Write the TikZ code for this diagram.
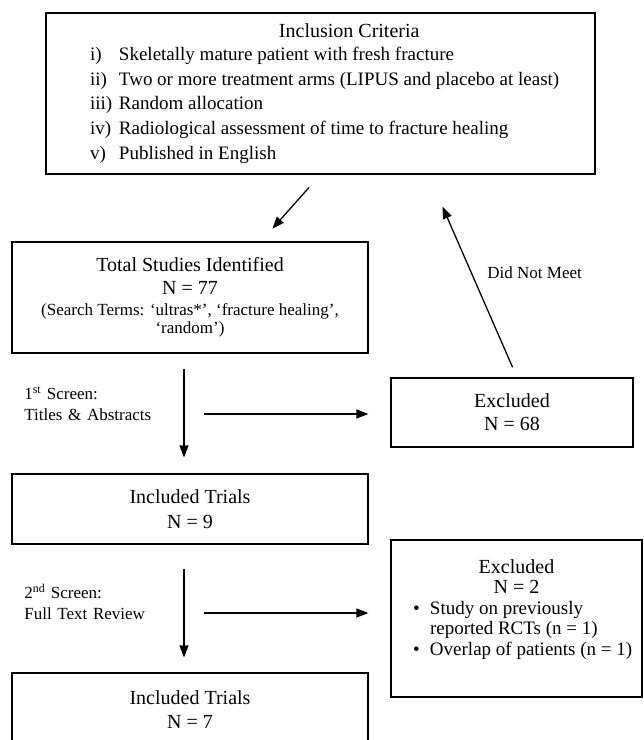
\documentclass[tikz,border=0pt]{standalone}
\usepackage{fontspec}
\setmainfont{Liberation Serif}
\usetikzlibrary{arrows.meta, positioning}
\newcommand{\bigsz}{\fontsize{20}{23}\selectfont}
\newcommand{\itemsz}{\fontsize{19}{24.7}\selectfont}
\newcommand{\smallsz}{\fontsize{17}{21}\selectfont}

\begin{document}
\begin{tikzpicture}[x=1pt, y=-1pt, node distance=211.5pt,
        box/.style={draw, line width=1.2pt, inner sep=0pt, align=center, font=\bigsz},
        arr/.style={-{Triangle[length=12pt,width=9pt]}, line width=1.3pt},
        lbl/.style={font=\smallsz, align=left, text width=130pt, inner sep=0pt, anchor=east}]
        \useasboundingbox (0,0) rectangle (644,740);

        \node (incl) [box, minimum width=549pt, minimum height=161pt] at (320.5,93.5) {%
            \begin{minipage}{549pt}\itemsz
                \hspace*{233pt}{\bigsz Inclusion Criteria}\par\vspace{-1.7pt}
                \hspace*{44pt}\makebox[29pt][l]{i)}Skeletally mature patient with fresh fracture\par
                \hspace*{44pt}\makebox[29pt][l]{ii)}Two or more treatment arms (LIPUS and placebo at least)\par
                \hspace*{44pt}\makebox[29pt][l]{iii)}Random allocation\par
                \hspace*{44pt}\makebox[29pt][l]{iv)}Radiological assessment of time to fracture healing\par
                \hspace*{44pt}\makebox[29pt][l]{v)}Published in English
            \end{minipage}};
        \node (total) [box, minimum width=356pt, minimum height=111pt] at (190,297.5)
            {Total Studies Identified\\ N = 77\\[-2pt]
             \smallsz (Search Terms: `ultras*', `fracture healing',\\[-5pt]
             \smallsz `random')};
        \node (incl9) [box, minimum width=356pt, minimum height=70pt, below of=total] {Included Trials\\[2pt] N = 9};
        \node (incl7) [box, minimum width=356pt, minimum height=74pt, below of=incl9, node distance=201pt] {Included Trials\\[1pt] N = 7};

        \node (excl1) [box, minimum width=242pt, minimum height=69pt] at (512,412.5) {Excluded\\ N = 68};
        \node (excl2) [box] at (516.5,618.5) {%
            \begin{minipage}[c][157pt][t]{251pt}
                \vspace*{20pt}
                {\centering\fontsize{20}{20}\selectfont Excluded\\ N = 2\par}
                \fontsize{19}{20.5}\selectfont\raggedright
                \hspace*{22pt}\makebox[17pt][l]{\textbullet}Study on previously\par
                \hspace*{39pt}reported RCTs (n = 1)\par
                \hspace*{22pt}\makebox[17pt][l]{\textbullet}Overlap of patients (n = 1)\par
            \end{minipage}};

        \coordinate (h1) at (204,414);
        \coordinate (h2) at (204,613);

        \draw[arr, shorten <=17pt, shorten >=17pt] (incl.south) -- ([xshift=71pt]total.north);
        \draw[arr, shorten <=11pt, shorten >=35pt] ([xshift=5pt]excl1.north) -- ([xshift=108pt]incl.south)
            node[pos=0.515, anchor=west, xshift=12pt, font=\smallsz] {Did Not Meet};
        \draw[arr, shorten <=15pt, shorten >=16pt] ([xshift=-6pt]total.south) -- ([xshift=-6pt]incl9.north)
            node[lbl, pos=0.42, xshift=-29pt] {1\textsuperscript{st} Screen:\\ Titles \& Abstracts};
        \draw[arr, shorten <=24pt, shorten >=15pt] ([xshift=-6pt]incl9.south) -- ([xshift=-6pt]incl7.north)
            node[lbl, pos=0.45, xshift=-29pt] {2\textsuperscript{nd} Screen:\\ Full Text Review};
        \draw[arr, shorten >=22pt] (h1) -- (h1 -| excl1.west);
        \draw[arr, shorten >=22pt] (h2) -- (h2 -| excl2.west);
    \end{tikzpicture}
\end{document}
